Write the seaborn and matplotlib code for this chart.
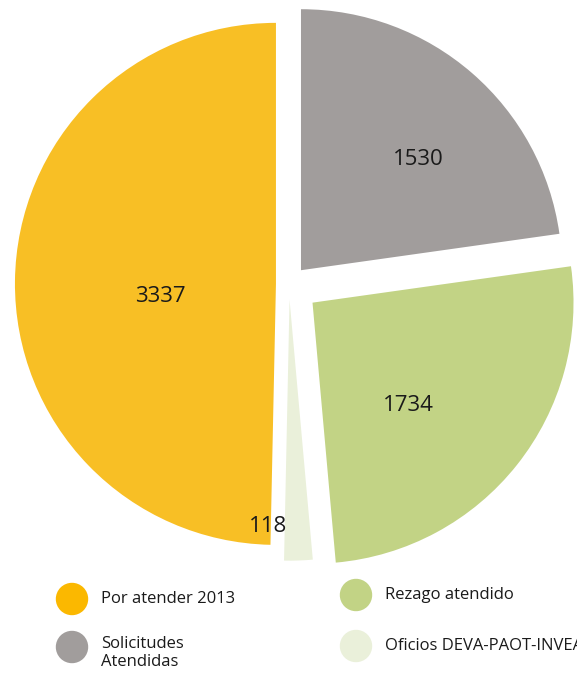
import matplotlib
matplotlib.use("Agg")
import matplotlib.pyplot as plt
import seaborn as sns
import numpy as np

sns.set_theme(style="white")
plt.rcParams['font.family'] = ['Open Sans', 'DejaVu Sans']

# Data (clockwise from top)
categories = ["Solicitudes\nAtendidas", "Rezago atendido", "Oficios DEVA-PAOT-INVEA", "Por atender 2013"]
values = [1530, 1734, 118, 3337]
colors = ["#A19D9C", "#C2D385", "#EAF0DA", "#F8BF25"]
legend_colors = ["#A19D9C", "#C2D385", "#EAF0DA", "#FBB800"]

explode = [0.07, 0.115, 0.06, 0.05]
label_r = [0.62, 0.54, 0.874, 0.447]
label_ang = [43.3, -47.0, -95.4, 186.4]

W, H = 577, 676
R = 261.0
cx, cy = 289.0, 284.0

fig = plt.figure(figsize=(W / 100, H / 100), dpi=100)
ax = fig.add_axes([0, 0, 1, 1])
wedges, _ = ax.pie(values, colors=colors, startangle=90, counterclock=False,
                   explode=explode, radius=1.0,
                   wedgeprops=dict(linewidth=0))
ax.set_xlim(-cx / R, (W - cx) / R)
ax.set_ylim(-(H - cy) / R, cy / R)
ax.set_aspect('equal')
ax.axis('off')

for w, v, lr, la in zip(wedges, values, label_r, label_ang):
    ang = np.deg2rad(la)
    x0, y0 = w.center
    ax.text(x0 + lr * np.cos(ang), y0 + lr * np.sin(ang), f"{v}",
            ha='center', va='center', fontsize=16, color='#1a1a1a')

# Legend (manual, two columns; right column runs off the edge as in the source)
leg_order = [3, 0, 1, 2]
leg_pos = [(72, 599), (72, 647), (356, 595), (356, 646)]
for idx, (px, py) in zip(leg_order, leg_pos):
    fx, fy = px / W, 1 - py / H
    fig.patches.append(plt.Circle((px, H - py), 15.5, transform=None,
                                  color=legend_colors[idx], figure=fig))
    txt_y = fy
    if "\n" in categories[idx]:
        va = 'top'
        txt_y = 1 - (py - 11) / H
    else:
        va = 'center'
    fig.text(fx + 29 / W, txt_y, categories[idx], ha='left', va=va,
             fontsize=12, color='#1a1a1a', linespacing=1.2)

fig.savefig("out.png", dpi=100)
